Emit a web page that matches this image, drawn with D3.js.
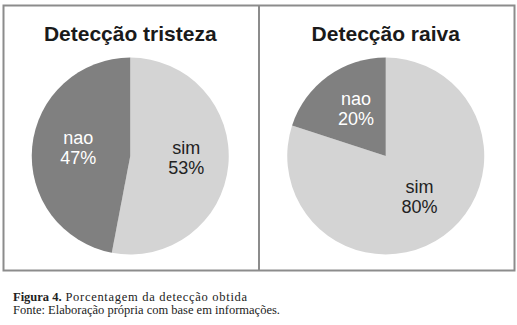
<!DOCTYPE html>
<html>
<head>
<meta charset="utf-8">
<script src="https://cdn.jsdelivr.net/npm/d3@7"></script>
<style>
  body { margin: 0; background: #fff; }
  svg { display: block; }
  .title { font-family: 'Liberation Sans', Arial, sans-serif; font-weight: bold; font-size: 21px; fill: #1a1a1a; }
  .slice-label { font-family: 'Liberation Sans', Arial, sans-serif; font-size: 18px; }
  .caption { font-family: 'Liberation Serif', 'DejaVu Serif', serif; font-size: 12.5px; fill: #222; }
</style>
</head>
<body>
<svg width="517" height="325"></svg>
<script>
const titles = ['Detecção tristeza', 'Detecção raiva'];
const categories = ['sim', 'nao'];
const tristeza = [53, 47];
const raiva = [80, 20];
const series = [tristeza, raiva];

const svg = d3.select('svg');

const panelWidth = 255.5;
const frameLeft = 3.5;
const frameTop = 5.5;
const panelHeight = 265;
const radius = 98.5;

const color = d3.scaleOrdinal()
    .domain(categories)
    .range(['#d4d4d4', '#808080']);

const textColor = d3.scaleOrdinal()
    .domain(categories)
    .range(['#222', '#fff']);

// frame around both panels
svg.append('rect')
    .attr('x', frameLeft)
    .attr('y', frameTop)
    .attr('width', panelWidth * 2)
    .attr('height', panelHeight)
    .attr('fill', 'none')
    .attr('stroke', '#8c8c8c')
    .attr('stroke-width', 2);

svg.append('line')
    .attr('x1', frameLeft + panelWidth)
    .attr('x2', frameLeft + panelWidth)
    .attr('y1', frameTop)
    .attr('y2', frameTop + panelHeight)
    .attr('stroke', '#8c8c8c')
    .attr('stroke-width', 2);

const pie = d3.pie().sort(null);
const arc = d3.arc().innerRadius(0).outerRadius(radius);
const labelArc = d3.arc().innerRadius(radius * 0.55).outerRadius(radius * 0.55);

series.forEach((values, i) => {
    const cx = frameLeft + panelWidth * i + panelWidth / 2 - 1;
    const cy = 156;

    const g = svg.append('g');

    g.append('text')
        .attr('class', 'title')
        .attr('x', cx)
        .attr('y', 41)
        .attr('text-anchor', 'middle')
        .text(titles[i]);

    const chart = g.append('g')
        .attr('transform', `translate(${cx}, ${cy})`);

    const slices = pie(values).map((d, j) => ({ ...d, cat: categories[j] }));

    chart.selectAll('path')
        .data(slices)
        .enter()
        .append('path')
        .attr('d', arc)
        .attr('fill', (d) => color(d.cat));

    const labels = chart.selectAll('.slice-label')
        .data(slices)
        .enter()
        .append('text')
        .attr('class', 'slice-label')
        .attr('text-anchor', 'middle')
        .attr('fill', (d) => textColor(d.cat))
        .attr('transform', (d) => {
            const [x, y] = labelArc.centroid(d);
            return `translate(${x + 2}, ${y - 3})`;
        });

    labels.append('tspan')
        .attr('x', 0)
        .attr('y', -4)
        .text((d) => d.cat);

    labels.append('tspan')
        .attr('x', 0)
        .attr('y', 16)
        .text((d) => `${d.data}%`);
});

const caption = svg.append('text')
    .attr('class', 'caption')
    .attr('x', 13)
    .attr('y', 301);

caption.append('tspan')
    .attr('font-weight', 'bold')
    .text('Figura 4.');

caption.append('tspan')
    .attr('letter-spacing', '0.7px')
    .text(' Porcentagem da detecção obtida');

svg.append('text')
    .attr('class', 'caption')
    .attr('x', 13)
    .attr('y', 314)
    .text('Fonte: Elaboração própria com base em informações.');
</script>
</body>
</html>
